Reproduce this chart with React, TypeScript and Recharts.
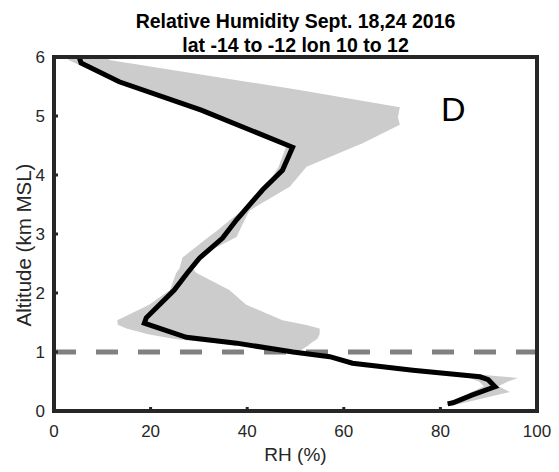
import { ComposedChart, Area, Line, XAxis, YAxis, ReferenceLine } from 'recharts'

// axis ticks
const rhTicks = [0, 20, 40, 60, 80, 100]
const altTicks = [0, 1, 2, 3, 4, 5, 6]

// mean RH profile (black line)
const meanAlt = [0.12, 0.14, 0.27, 0.41, 0.53, 0.58, 0.69, 0.81, 0.92, 1.0, 1.15, 1.25, 1.49, 1.58, 2.05, 2.34, 2.59, 2.93, 3.24, 3.75, 4.08, 4.47, 5.1, 5.58, 5.9, 6.0]
const meanRh = [81.5, 82.6, 86.5, 91.3, 89.9, 88.2, 74.3, 61.8, 57.1, 49.5, 37.8, 27.4, 18.7, 19.1, 24.9, 27.6, 30.1, 34.9, 37.8, 43.2, 47.3, 49.4, 30.5, 13.5, 5.6, 5.2]

// min / max envelope (grey band)
const bandAlt = [0.1, 0.2, 0.32, 0.42, 0.5, 0.56, 0.62, 0.7, 0.8, 0.92, 1.0, 1.1, 1.17, 1.22, 1.3, 1.4, 1.46, 1.54, 1.8, 2.05, 2.34, 2.42, 2.6, 2.95, 3.07, 3.24, 3.4, 3.8, 4.14, 4.47, 4.54, 4.85, 4.98, 5.15, 5.44, 5.7, 5.95, 6.0]
const bandLo = [81, 84, 86.5, 89, 88, 86, 80, 73, 61, 55.5, 48, 40, 31, 25, 19.5, 15, 13.2, 13.1, 19.7, 24, 25.3, 26, 26.6, 32, 34, 36.5, 39, 44, 46.5, 48, 47, 37, 33, 28.5, 18, 9.5, 3, 2.7]
const bandHi = [83, 88, 94.4, 92, 94, 96, 88, 75.5, 63, 58, 50.5, 52.5, 53.5, 54.5, 55, 55, 52, 47.3, 39.8, 36.3, 29.5, 28.6, 29.5, 37.8, 38.5, 39.5, 40.5, 48.8, 52.3, 61.9, 63.9, 71.6, 71.2, 71.6, 50.8, 30.7, 11.4, 11.5]

const boundaryLayerTop = 1.0

const meanData = meanAlt.map((alt, i) => ({ alt, rh: meanRh[i] }))
const bandData = bandAlt.map((alt, i) => ({ alt, range: [bandLo[i], bandHi[i]] }))

const font = '"Liberation Sans", Arial, sans-serif'
const axisColor = '#262626'

export default function App() {
  const axisLine = { stroke: axisColor, strokeWidth: 4, strokeLinecap: 'square' as const }
  const tickLine = { stroke: axisColor, strokeWidth: 3 }
  const tickStyle = { fill: axisColor, fontSize: 17, fontFamily: font }

  return (
    <div style={{ position: 'absolute', left: 0, top: 0, width: 559, height: 472, background: '#fff', fontFamily: font }}>
      <ComposedChart
        layout="vertical"
        width={559}
        height={472}
        margin={{ top: 56, right: 21, bottom: 0, left: 0 }}
      >
        <XAxis
          type="number"
          domain={[0, 100]}
          ticks={rhTicks}
          allowDataOverflow
          height={61}
          axisLine={axisLine}
          tickLine={tickLine}
          tickSize={-4}
          tickMargin={18}
          tick={tickStyle}
        />
        <XAxis
          xAxisId="top"
          orientation="top"
          type="number"
          domain={[0, 100]}
          ticks={rhTicks}
          allowDataOverflow
          height={1}
          axisLine={axisLine}
          tickLine={tickLine}
          tickSize={-4}
          tick={false}
        />
        <YAxis
          type="number"
          dataKey="alt"
          domain={[0, 6]}
          ticks={altTicks}
          allowDataOverflow
          reversed
          width={54}
          axisLine={axisLine}
          tickLine={tickLine}
          tickSize={-4}
          tickMargin={13}
          tick={tickStyle}
        />
        <YAxis
          yAxisId="right"
          orientation="right"
          type="number"
          dataKey="alt"
          domain={[0, 6]}
          ticks={altTicks}
          allowDataOverflow
          reversed
          width={1}
          axisLine={axisLine}
          tickLine={tickLine}
          tickSize={-4}
          tick={false}
        />
        <Area
          data={bandData}
          dataKey="range"
          type="linear"
          fill="#cccccc"
          fillOpacity={1}
          stroke="none"
          isAnimationActive={false}
        />
        <ReferenceLine
          y={boundaryLayerTop}
          stroke="#808080"
          strokeWidth={5}
          strokeDasharray="22 20"
        />
        <Line
          data={meanData}
          dataKey="rh"
          type="linear"
          stroke="#000000"
          strokeWidth={5}
          dot={false}
          isAnimationActive={false}
        />
      </ComposedChart>

      <div style={{ position: 'absolute', left: 0, width: 591, top: 9, textAlign: 'center', fontWeight: 'bold', fontSize: 19.5, lineHeight: '24px', color: '#000' }}>
        Relative Humidity Sept. 18,24 2016
        <br />
        lat -14 to -12 lon 10 to 12
      </div>
      <div style={{ position: 'absolute', left: 0, width: 591, top: 444, textAlign: 'center', fontSize: 19, color: axisColor }}>
        RH (%)
      </div>
      <div
        style={{
          position: 'absolute',
          left: 24,
          top: 245,
          transform: 'translate(-50%, -50%) rotate(-90deg)',
          whiteSpace: 'nowrap',
          fontSize: 20.5,
          color: axisColor,
        }}
      >
        Altitude (km MSL)
      </div>
      <div style={{ position: 'absolute', left: 441, top: 90, fontSize: 34, color: '#000' }}>D</div>
    </div>
  )
}
